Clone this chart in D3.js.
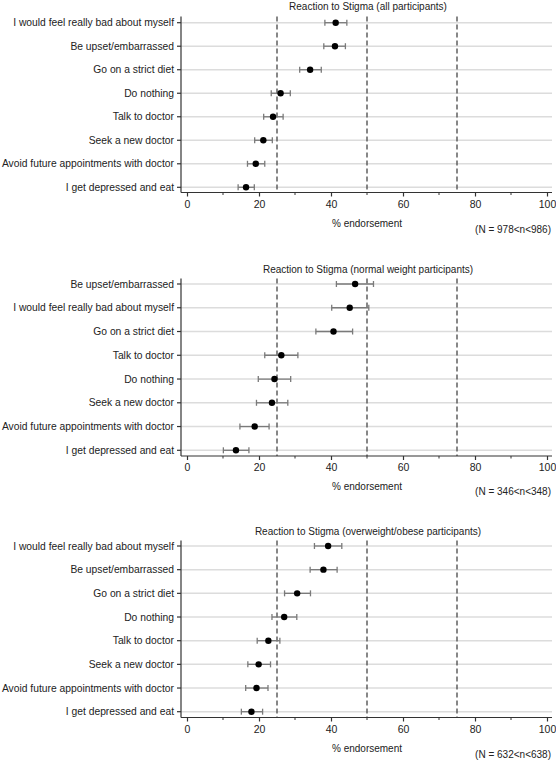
<!DOCTYPE html>
<html><head><meta charset="utf-8">
<script src="https://cdnjs.cloudflare.com/ajax/libs/d3/7.8.5/d3.min.js"></script>
<style>
html,body{margin:0;padding:0;background:#fff;}
svg{display:block;font-family:"Liberation Sans",Arial,sans-serif;}
</style></head>
<body><svg id="chart" width="556" height="760"></svg>
<script>
// ---- data ----
const titles = [
  "Reaction to Stigma (all participants)",
  "Reaction to Stigma (normal weight participants)",
  "Reaction to Stigma (overweight/obese participants)"
];
const notes = ["(N = 978<n<986)", "(N = 346<n<348)", "(N = 632<n<638)"];
const xTicks = [0, 20, 40, 60, 80, 100];
const xMinorTicks = [10, 30, 50, 70, 90];
const refLines = [25, 50, 75];
const xLabel = "% endorsement";

const labelsAll = ["I would feel really bad about myself","Be upset/embarrassed","Go on a strict diet","Do nothing","Talk to doctor","Seek a new doctor","Avoid future appointments with doctor","I get depressed and eat"];
const estAll = [41.3, 41.1, 34.2, 26.0, 23.9, 21.2, 19.1, 16.4];
const loAll  = [38.3, 38.0, 31.3, 23.4, 21.3, 18.8, 16.8, 14.2];
const hiAll  = [44.4, 44.0, 37.3, 28.7, 26.7, 23.7, 21.6, 18.7];

const labelsNormal = ["Be upset/embarrassed","I would feel really bad about myself","Go on a strict diet","Talk to doctor","Do nothing","Seek a new doctor","Avoid future appointments with doctor","I get depressed and eat"];
const estNormal = [46.7, 45.2, 40.7, 26.2, 24.3, 23.6, 18.8, 13.6];
const loNormal  = [41.5, 40.2, 35.8, 21.6, 19.8, 19.3, 14.7, 10.1];
const hiNormal  = [51.8, 50.5, 46.0, 30.8, 28.8, 28.0, 22.8, 17.2];

const labelsOver = ["I would feel really bad about myself","Be upset/embarrassed","Go on a strict diet","Do nothing","Talk to doctor","Seek a new doctor","Avoid future appointments with doctor","I get depressed and eat"];
const estOver = [39.2, 37.9, 30.6, 27.0, 22.6, 19.9, 19.3, 17.9];
const loOver  = [35.4, 34.2, 27.1, 23.6, 19.5, 16.9, 16.3, 15.1];
const hiOver  = [43.0, 41.7, 34.3, 30.5, 25.8, 23.2, 22.5, 21.0];

// ---- layout ----
const panels = [
  {labels: labelsAll, est: estAll, lo: loAll, hi: hiAll, rowTop: 22.7, rowBot: 187.3, axTop: 16.5, axBot: 192.5, titleY: 9.5, xlabY: 226.5, noteY: 232.5},
  {labels: labelsNormal, est: estNormal, lo: loNormal, hi: hiNormal, rowTop: 284, rowBot: 450.3, axTop: 278.5, axBot: 456, titleY: 272.5, xlabY: 489.5, noteY: 495},
  {labels: labelsOver, est: estOver, lo: loOver, hi: hiOver, rowTop: 546, rowBot: 711.7, axTop: 540.5, axBot: 717.5, titleY: 534.5, xlabY: 751.5, noteY: 758}
];

const svg = d3.select("#chart");
const yAxisX = 181, plotRight = 552;
const x = d3.scaleLinear().domain([0, 100]).range([187, 547]);

panels.forEach((p, i) => {
  const g = svg.append("g");
  const y = d3.scalePoint().domain(p.labels).range([p.rowTop, p.rowBot]);
  const rows = p.labels.map((l, k) => ({label: l, est: p.est[k], lo: p.lo[k], hi: p.hi[k]}));

  // gridlines
  g.selectAll("line.grid").data(p.labels).join("line")
    .attr("x1", yAxisX).attr("x2", plotRight)
    .attr("y1", d => y(d)).attr("y2", d => y(d))
    .attr("stroke", "#dcdcdc").attr("stroke-width", 1.5);

  // reference dashed lines
  g.selectAll("line.ref").data(refLines).join("line")
    .attr("x1", d => x(d)).attr("x2", d => x(d))
    .attr("y1", p.axTop).attr("y2", p.axBot)
    .attr("stroke", "#555").attr("stroke-width", 1.4)
    .attr("stroke-dasharray", "5,3");

  // error bars
  const eb = g.selectAll("g.eb").data(rows).join("g");
  eb.append("line")
    .attr("x1", d => x(d.lo)).attr("x2", d => x(d.hi))
    .attr("y1", d => y(d.label)).attr("y2", d => y(d.label))
    .attr("stroke", "#7a7a7a").attr("stroke-width", 1.3);
  eb.append("line")
    .attr("x1", d => x(d.lo)).attr("x2", d => x(d.lo))
    .attr("y1", d => y(d.label) - 3).attr("y2", d => y(d.label) + 3)
    .attr("stroke", "#7a7a7a").attr("stroke-width", 1.3);
  eb.append("line")
    .attr("x1", d => x(d.hi)).attr("x2", d => x(d.hi))
    .attr("y1", d => y(d.label) - 3).attr("y2", d => y(d.label) + 3)
    .attr("stroke", "#7a7a7a").attr("stroke-width", 1.3);
  eb.append("circle")
    .attr("cx", d => x(d.est)).attr("cy", d => y(d.label)).attr("r", 3.2)
    .attr("fill", "#000");

  // y axis
  g.append("line").attr("x1", yAxisX).attr("x2", yAxisX)
    .attr("y1", p.axTop).attr("y2", p.axBot)
    .attr("stroke", "#333").attr("stroke-width", 1.2);
  g.selectAll("line.ytick").data(p.labels).join("line")
    .attr("x1", yAxisX - 4).attr("x2", yAxisX)
    .attr("y1", d => y(d)).attr("y2", d => y(d))
    .attr("stroke", "#333").attr("stroke-width", 1.2);
  g.selectAll("text.ylab").data(p.labels).join("text")
    .attr("x", yAxisX - 7).attr("y", d => y(d)).attr("dy", "0.35em")
    .attr("text-anchor", "end").attr("font-size", "10.3px").attr("fill", "#222")
    .text(d => d);

  // x axis
  g.append("line").attr("x1", yAxisX).attr("x2", plotRight)
    .attr("y1", p.axBot).attr("y2", p.axBot)
    .attr("stroke", "#333").attr("stroke-width", 1.2);
  const xa = g.append("g").attr("transform", `translate(0,${p.axBot})`)
    .call(d3.axisBottom(x).tickValues(xTicks).tickSize(4).tickPadding(4));
  xa.select(".domain").remove();
  xa.selectAll("line").attr("stroke", "#333").attr("stroke-width", 1.2);
  xa.selectAll("text").attr("font-size", "10.5px").attr("fill", "#222")
    .attr("font-family", "Liberation Sans, Arial, sans-serif");
  g.selectAll("line.minor").data(xMinorTicks).join("line")
    .attr("x1", d => x(d)).attr("x2", d => x(d))
    .attr("y1", p.axBot).attr("y2", p.axBot + 2.5)
    .attr("stroke", "#333").attr("stroke-width", 1);

  // title, x label, note
  g.append("text").attr("x", 368).attr("y", p.titleY)
    .attr("text-anchor", "middle").attr("font-size", "10px").attr("fill", "#222")
    .text(titles[i]);
  g.append("text").attr("x", 367).attr("y", p.xlabY)
    .attr("text-anchor", "middle").attr("font-size", "10px").attr("fill", "#222")
    .text(xLabel);
  g.append("text").attr("x", 551).attr("y", p.noteY)
    .attr("text-anchor", "end").attr("font-size", "10px").attr("fill", "#222")
    .text(notes[i]);
});
</script></body></html>
